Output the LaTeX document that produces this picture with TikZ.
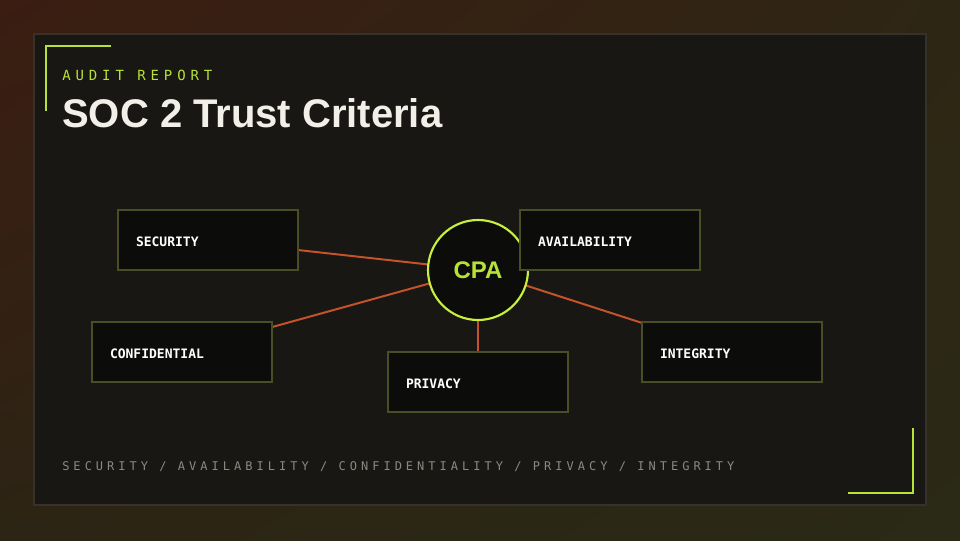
\documentclass[tikz,border=0pt]{standalone}
\usepackage{fontspec}
\usetikzlibrary{shadings}
\setmainfont{Liberation Sans}
\newfontfamily\monof{DejaVu Sans Mono}
\newfontfamily\monospaced[LetterSpace=35]{DejaVu Sans Mono}
\newfontfamily\footmono[LetterSpace=33.5]{DejaVu Sans Mono}
\definecolor{bgTL}{HTML}{3B1D12}
\definecolor{bgTR}{HTML}{2E2614}
\definecolor{bgBL}{HTML}{2C2414}
\definecolor{bgBR}{HTML}{2A2A16}
\definecolor{panel}{HTML}{181714}
\definecolor{panelline}{HTML}{36322A}
\definecolor{lime}{HTML}{B8E236}
\definecolor{limebright}{HTML}{C8F03C}
\definecolor{boxfill}{HTML}{0C0C0B}
\definecolor{boxline}{HTML}{4A4E24}
\definecolor{wire}{HTML}{C4522A}
\definecolor{titlec}{HTML}{F2EFE8}
\definecolor{footc}{HTML}{8C8982}
\tikzset{
  critbox/.style={draw=boxline, fill=boxfill, line width=1.5pt, rectangle,
    minimum width=135pt, minimum height=45pt, text width=108pt, inner xsep=13.5pt,
    inner ysep=0pt, text height=10pt, text depth=0pt, align=left, text=white,
    font=\monof\bfseries\fontsize{9.75}{11}\selectfont},
  hub/.style={circle, draw=limebright, fill=boxfill, line width=1.6pt, minimum size=75pt,
    inner sep=0pt, text=lime, font=\bfseries\fontsize{18}{20}\selectfont},
  wireline/.style={draw=wire, line width=1.5pt},
  bracket/.style={draw=lime, line width=2pt}
}
\begin{document}
\begin{tikzpicture}[x=0.75pt, y=-0.75pt]
\useasboundingbox (0,0) rectangle (960,540);
\shade[upper left=bgTL, upper right=bgTR, lower left=bgBL, lower right=bgBR] (0,0) rectangle (960,540);
\draw[fill=panel, draw=panelline, line width=1pt] (34,34) rectangle (926,505);
% brackets
\coordinate (tl1) at (46,111); \coordinate (tl2) at (46,46); \coordinate (tl3) at (111,46);
\draw[bracket] (tl1) -- (tl2) -- (tl3);
\coordinate (br1) at (913,428); \coordinate (br2) at (913,493); \coordinate (br3) at (848,493);
\draw[bracket] (br1) -- (br2) -- (br3);
% heading
\node[anchor=base west, inner sep=0pt, text=lime, font=\monospaced\fontsize{10.5}{12}\selectfont] (kicker) at (62,80) {AUDIT REPORT};
\node[anchor=base west, inner sep=0pt, text=titlec, font=\bfseries\fontsize{30}{34}\selectfont] (title) at (62,127) {SOC 2 Trust Criteria};
% positions
\coordinate (cC) at (478,270);
\coordinate (sC) at (208,240);
\coordinate (aC) at (610,240);
\coordinate (cfC) at (182,352);
\coordinate (pC) at (478,382);
\coordinate (iC) at (732,352);
% connectors
\draw[wireline] (sC) -- (cC);
\draw[wireline] (aC) -- (cC);
\draw[wireline] (cfC) -- (cC);
\draw[wireline] (pC) -- (cC);
\draw[wireline] (iC) -- (cC);
% hub
\node[hub] (cpa) at (cC) {CPA};
% boxes
\node[critbox] (sec) at (sC) {SECURITY};
\node[critbox] (ava) at (aC) {AVAILABILITY};
\node[critbox] (conf) at (cfC) {CONFIDENTIAL};
\node[critbox] (priv) at (pC) {PRIVACY};
\node[critbox] (integ) at (iC) {INTEGRITY};
% footer
\node[anchor=base west, inner sep=0pt, text=footc, font=\footmono\fontsize{9}{11}\selectfont] (foot) at (62,470) {SECURITY / AVAILABILITY / CONFIDENTIALITY / PRIVACY / INTEGRITY};
\end{tikzpicture}
\end{document}
